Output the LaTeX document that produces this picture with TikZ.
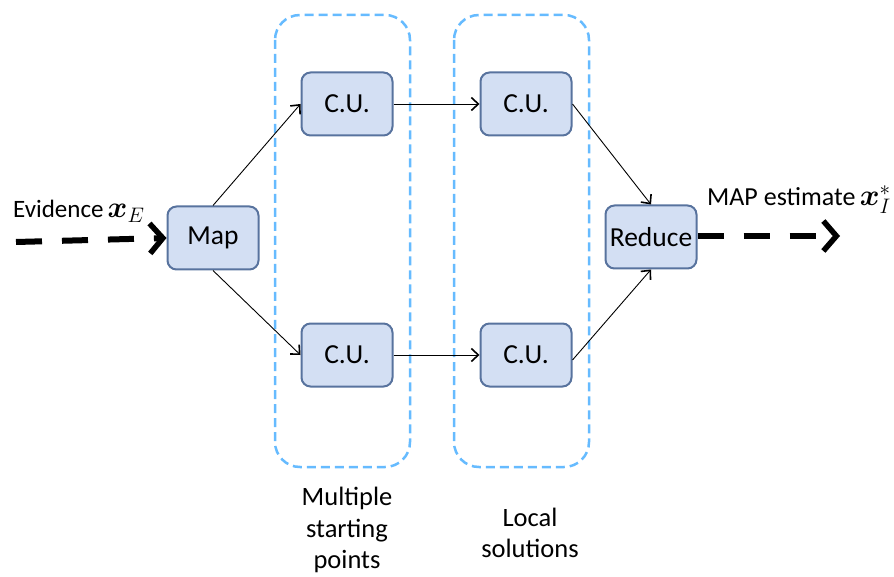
\documentclass[tikz,border=0pt]{standalone}
\usepackage{fix-cm}
\usepackage{amsmath,bm}
\usepackage{fontspec}
\setmainfont{Carlito}
\usetikzlibrary{arrows.meta}

\definecolor{unitfill}{RGB}{211,223,243}
\definecolor{unitdraw}{RGB}{88,115,158}
\definecolor{groupdraw}{RGB}{102,187,255}

\newcommand{\bigmath}[1]{{\fontsize{30}{30}\selectfont$#1$}}

\tikzset{
  unit/.style={draw=unitdraw, fill=unitfill, line width=2pt, rounded corners=9pt,
    minimum width=91pt, minimum height=63pt, inner sep=0pt,
    font=\fontsize{27.5}{31}\selectfont},
  link/.style={line width=0.9pt, -{Straight Barb[length=7pt,width=13pt,line width=1.6pt]}},
  flow/.style={line width=6pt, dash pattern=on 26pt off 20pt,
    -{Straight Barb[length=13pt,width=30pt,line width=5.5pt]}},
  group/.style={draw=groupdraw, line width=2.5pt, dash pattern=on 9pt off 5pt,
    rounded corners=25pt},
  caption/.style={align=center, inner sep=0pt, font=\fontsize{26.5}{31.5}\selectfont}
}

\begin{document}
\begin{tikzpicture}[x=1pt,y=-1pt,font=\fontsize{24}{31}\selectfont]
  \useasboundingbox (0,0) rectangle (894,577);

  % dashed groups around the two columns of compute units
  \draw[group] (275,15) rectangle (410,467);
  \draw[group] (454,15) rectangle (589,467);

  % processing stages
  \node[unit] (map) at (213,238) {Map};
  \node[unit] (cu1) at (347,104) {C.U.};
  \node[unit] (cu2) at (347,355) {C.U.};
  \node[unit] (cu3) at (526,104) {C.U.};
  \node[unit] (cu4) at (526,355) {C.U.};
  \node[unit] (red) at (651,237) {Reduce};

  % input and output
  \coordinate (in) at (16,242);
  \coordinate (out) at (840,236);
  \node[anchor=base west, inner sep=0pt, font=\fontsize{25}{31}\selectfont] (evid) at (13,218) {Evidence\,\bigmath{\bm{x}_E}};
  \node[anchor=base west, inner sep=0pt, font=\fontsize{26}{31}\selectfont] (est) at (707,206) {MAP estimate\,\bigmath{\bm{x}_I^*}};

  \draw[flow] (in) -- (map.west);
  \draw[flow] (red.east |- out) -- (out);

  % connections between stages
  \draw[link] (map.north) -- (cu1.west);
  \draw[link] (map.south) -- (cu2.west);
  \draw[link] (cu1.east) -- (cu3.west);
  \draw[link] (cu2.east) -- (cu4.west);
  \draw[link] (cu3.east) -- (red.north);
  \draw[link] ([yshift=-5pt]cu4.east) -- (red.south);

  % column captions
  \node[caption] (cap1) at (347,530) {Multiple\\starting\\points};
  \node[caption] (cap2) at (530,533) {Local\\solutions};
\end{tikzpicture}
\end{document}
